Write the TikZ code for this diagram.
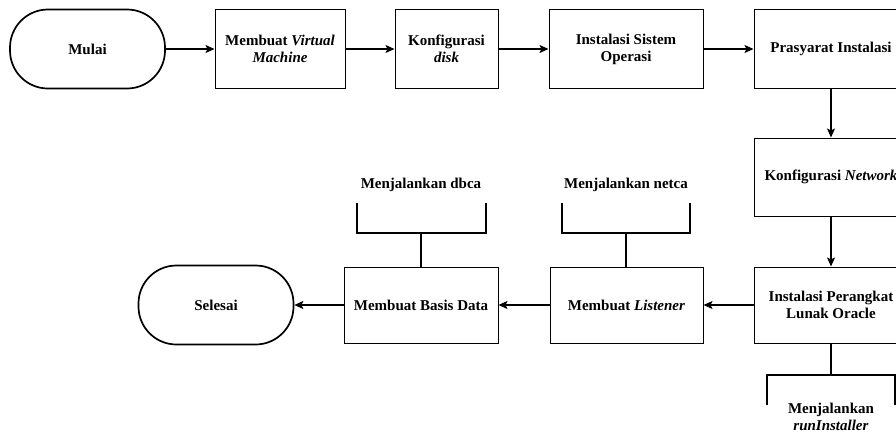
\documentclass[tikz,border=0pt]{standalone}
\usepackage{fontspec}
\setmainfont{Liberation Serif}
\usetikzlibrary{arrows.meta}
\begin{document}
\begin{tikzpicture}[x=1pt,y=-1pt,
  txt/.style={font=\bfseries\fontsize{15}{17}\selectfont},
  box/.style={txt,draw,line width=1pt,minimum height=78pt,align=center,inner sep=2pt},
  term/.style={txt,draw,line width=1.7pt,rounded corners=38pt,minimum width=155pt,minimum height=79pt,align=center},
  lbl/.style={txt,align=center,inner sep=0pt},
  arr/.style={draw,line width=1.1pt,-{Stealth[length=9pt,width=8pt,inset=2pt]}},
  brk/.style={draw,line width=2pt},
  stem/.style={draw,line width=2pt}]
\useasboundingbox (0,0) rectangle (896,436);
% row 1
\node[term] (mulai) at (87.5,49) {Mulai};
\node[box,minimum width=130pt] (vm) at (280,49) {Membuat \textit{Virtual}\\\textit{Machine}};
\node[box,minimum width=103pt] (disk) at (446.5,49) {Konfigurasi\\\textit{disk}};
\node[box,minimum width=154pt] (os) at (626,49) {Instalasi Sistem\\Operasi};
\node[box,minimum width=154pt] (pras) at (831,49) {Prasyarat Instalasi};
% right column
\node[box,minimum width=154pt] (net) at (831,177) {Konfigurasi \textit{Network}};
\node[box,minimum width=154pt,minimum height=76pt] (ora) at (831,305) {Instalasi Perangkat\\Lunak Oracle};
% row 2
\node[box,minimum width=153pt,minimum height=76pt] (lis) at (626.5,305) {Membuat \textit{Listener}};
\node[box,minimum width=154pt,minimum height=76pt] (bd) at (421,305) {Membuat Basis Data};
\node[term] (sel) at (216,305) {Selesai};
% arrows
\draw[arr] (mulai) -- (vm);
\draw[arr] (vm) -- (disk);
\draw[arr] (disk) -- (os);
\draw[arr] (os) -- (pras);
\draw[arr] (pras) -- (net);
\draw[arr] (net) -- (ora);
\draw[arr] (ora) -- (lis);
\draw[arr] (lis) -- (bd);
\draw[arr] (bd) -- (sel);
% bracket dbca
\coordinate (bdj) at (421,233);
\coordinate (bdl) at (357,203);
\coordinate (bdr) at (486,203);
\draw[stem] (bd.north) -- (bdj);
\draw[brk] (bdl) |- (bdj) -| (bdr);
\node[lbl] (dbca) at (421,185) {Menjalankan dbca};
% bracket netca
\coordinate (lij) at (626,233);
\coordinate (lil) at (562,203);
\coordinate (lir) at (690,203);
\draw[stem] (lis.north -| lij) -- (lij);
\draw[brk] (lil) |- (lij) -| (lir);
\node[lbl] (netca) at (626,185) {Menjalankan netca};
% bracket runInstaller
\coordinate (orj) at (831,375);
\coordinate (orl) at (767,405);
\coordinate (orr) at (895,405);
\draw[stem] (ora.south) -- (orj);
\draw[brk] (orl) |- (orj) -| (orr);
\node[lbl,anchor=north] (runi) at (831,403) {Menjalankan\\\textit{runInstaller}};
\end{tikzpicture}
\end{document}
